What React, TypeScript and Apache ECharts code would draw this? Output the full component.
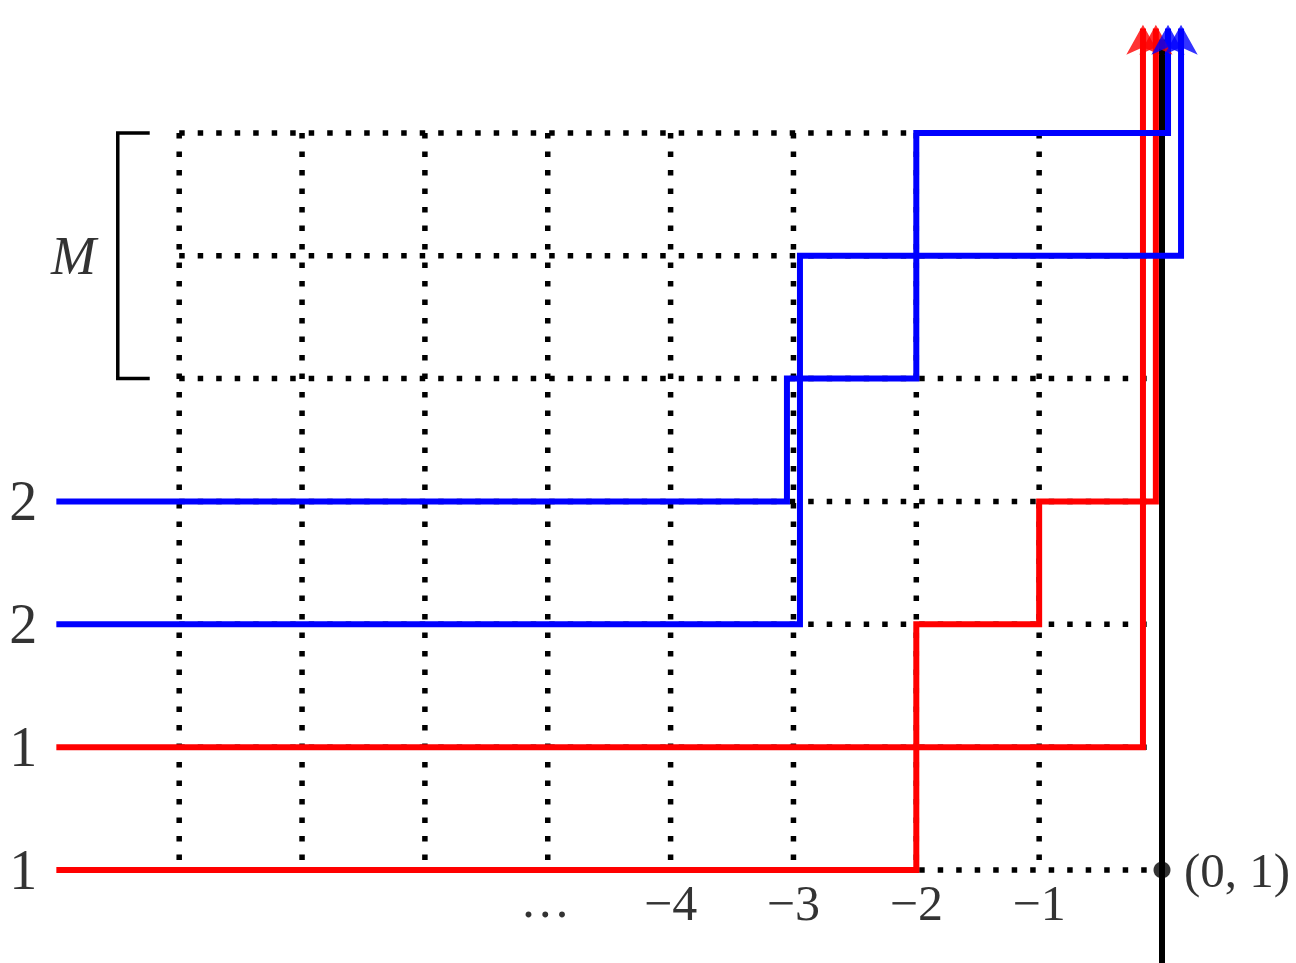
import React, { useEffect, useRef } from "react";
import * as echarts from "echarts";

// Grid of dotted lines
const gridColumns = [-8, -7, -6, -5, -4, -3, -2, -1];
const gridRows = [1, 2, 3, 4, 5, 6, 7];
const gridXStart = -8;
const gridXEnd = 0;
const gridYStart = 1;
const gridYEnd = 7;

// Step paths (x, y) in unit coordinates
const redPathA: number[][] = [[-9, 1], [-2, 1], [-2, 3], [-1, 3], [-1, 4], [-0.05, 4], [-0.05, 7.85]];
const redPathB: number[][] = [[-9, 2], [-0.155, 2], [-0.155, 7.85]];
const bluePathA: number[][] = [[-9, 3], [-2.947, 3], [-2.947, 6], [0.155, 6], [0.155, 7.85]];
const bluePathB: number[][] = [[-9, 4], [-3.053, 4], [-3.053, 5], [-2, 5], [-2, 7], [0.049, 7], [0.049, 7.85]];

// Vertical black axis
const axisPath: number[][] = [[0, 0], [0, 7.76]];
const originPoint: number[] = [0, 1];

// Bracket for M
const bracketPath: number[][] = [[-8.24, 7], [-8.5, 7], [-8.5, 5], [-8.24, 5]];
const bracketLabel = "M";
const bracketLabelPos: number[] = [-8.86, 6];

// Labels
const leftLabelTexts = ["1", "1", "2", "2"];
const leftLabelRows = [1, 2, 3, 4];
const leftLabelX = -9.27;
const bottomTickValues = [-5, -4, -3, -2, -1];
const bottomTickTexts = ["\u2026", "\u22124", "\u22123", "\u22122", "\u22121"];
const bottomTickY = 0.735;
const originLabelText = "(0, 1)";
const originLabelPos: number[] = [0.61, 1];

const RED = "#ff0000";
const BLUE = "#0000ff";
const FONT = "'Liberation Serif', 'DejaVu Serif', serif";

export default function App() {
  const ref = useRef<HTMLDivElement>(null);
  useEffect(() => {
    if (!ref.current) return;
    const chart = echarts.init(ref.current, null, { renderer: "svg" });
    const series: any[] = [];

    const dotted = { color: "#000", width: 5.5, type: [5.5, 13], cap: "butt" };
    gridColumns.forEach((c) => {
      series.push({
        type: "line", silent: true, symbol: "none", z: 1,
        data: [[c, gridYEnd], [c, gridYStart]],
        lineStyle: dotted,
      });
    });
    gridRows.forEach((r) => {
      series.push({
        type: "line", silent: true, symbol: "none", z: 1,
        data: [[gridXStart, r], [gridXEnd, r]],
        lineStyle: dotted,
      });
    });

    series.push({
      type: "line", silent: true, symbol: "none", z: 2,
      data: axisPath,
      lineStyle: { color: "#000", width: 6, cap: "butt" },
    });
    series.push({
      type: "line", silent: true, symbol: "none", z: 2,
      data: bracketPath,
      lineStyle: { color: "#000", width: 3.5, cap: "butt", join: "miter" },
    });

    const addPath = (p: number[][], color: string, z: number) => {
      series.push({
        type: "line", silent: true, symbol: "none", z,
        data: p,
        lineStyle: { color, width: 6, cap: "butt", join: "miter" },
      });
    };
    addPath(redPathA, RED, 3);
    addPath(redPathB, RED, 3);
    addPath(bluePathA, BLUE, 4);
    addPath(bluePathB, BLUE, 4);

    // arrow heads at ends of paths
    const heads = [
      { p: redPathA, c: RED, z: 5 },
      { p: redPathB, c: RED, z: 5 },
      { p: bluePathA, c: BLUE, z: 6 },
      { p: bluePathB, c: BLUE, z: 6 },
    ];
    heads.forEach((h) => {
      const last = h.p[h.p.length - 1];
      series.push({
        type: "scatter", silent: true, z: h.z,
        symbol: "arrow", symbolSize: [25, 30],
        data: [[last[0], last[1] + 0.03]],
        itemStyle: { color: h.c },
      });
    });

    // origin dot
    series.push({
      type: "scatter", silent: true, z: 7,
      symbol: "circle", symbolSize: 17,
      data: [originPoint],
      itemStyle: { color: "#000" },
    });

    const textSeries = (data: any[], fontSize: number, italic = false) => ({
      type: "scatter", silent: true, z: 8,
      symbolSize: 1,
      itemStyle: { color: "rgba(0,0,0,0)" },
      data,
      label: {
        show: true, position: "inside", align: "center", verticalAlign: "middle",
        color: "#000", fontFamily: FONT, fontSize,
        fontStyle: italic ? "italic" : "normal",
        formatter: (p: any) => p.data.name,
      },
    });

    series.push(
      textSeries(leftLabelTexts.map((t, i) => ({ name: t, value: [leftLabelX, leftLabelRows[i]] })), 56)
    );
    series.push(
      textSeries(
        bottomTickTexts.map((t, i) => ({
          name: t,
          value: [bottomTickValues[i] - (i === 0 ? 0.02 : 0), bottomTickY + (i === 0 ? 0.02 : 0)],
        })),
        50
      )
    );
    series.push(textSeries([{ name: originLabelText, value: originLabelPos }], 49));
    series.push(textSeries([{ name: bracketLabel, value: bracketLabelPos }], 54, true));

    chart.setOption({
      animation: false,
      backgroundColor: "#fff",
      grid: { left: 0, right: 0, top: 0, bottom: 0 },
      xAxis: { type: "value", min: -1162 / 122.85, max: 134 / 122.85, show: false },
      yAxis: { type: "value", min: 1 - 93 / 122.85, max: 1 + 870 / 122.85, show: false },
      series,
    });
    return () => chart.dispose();
  }, []);
  return (
    <div
      ref={ref}
      style={{ position: "fixed", left: 0, top: 0, width: 1296, height: 963, background: "#fff" }}
    />
  );
}
